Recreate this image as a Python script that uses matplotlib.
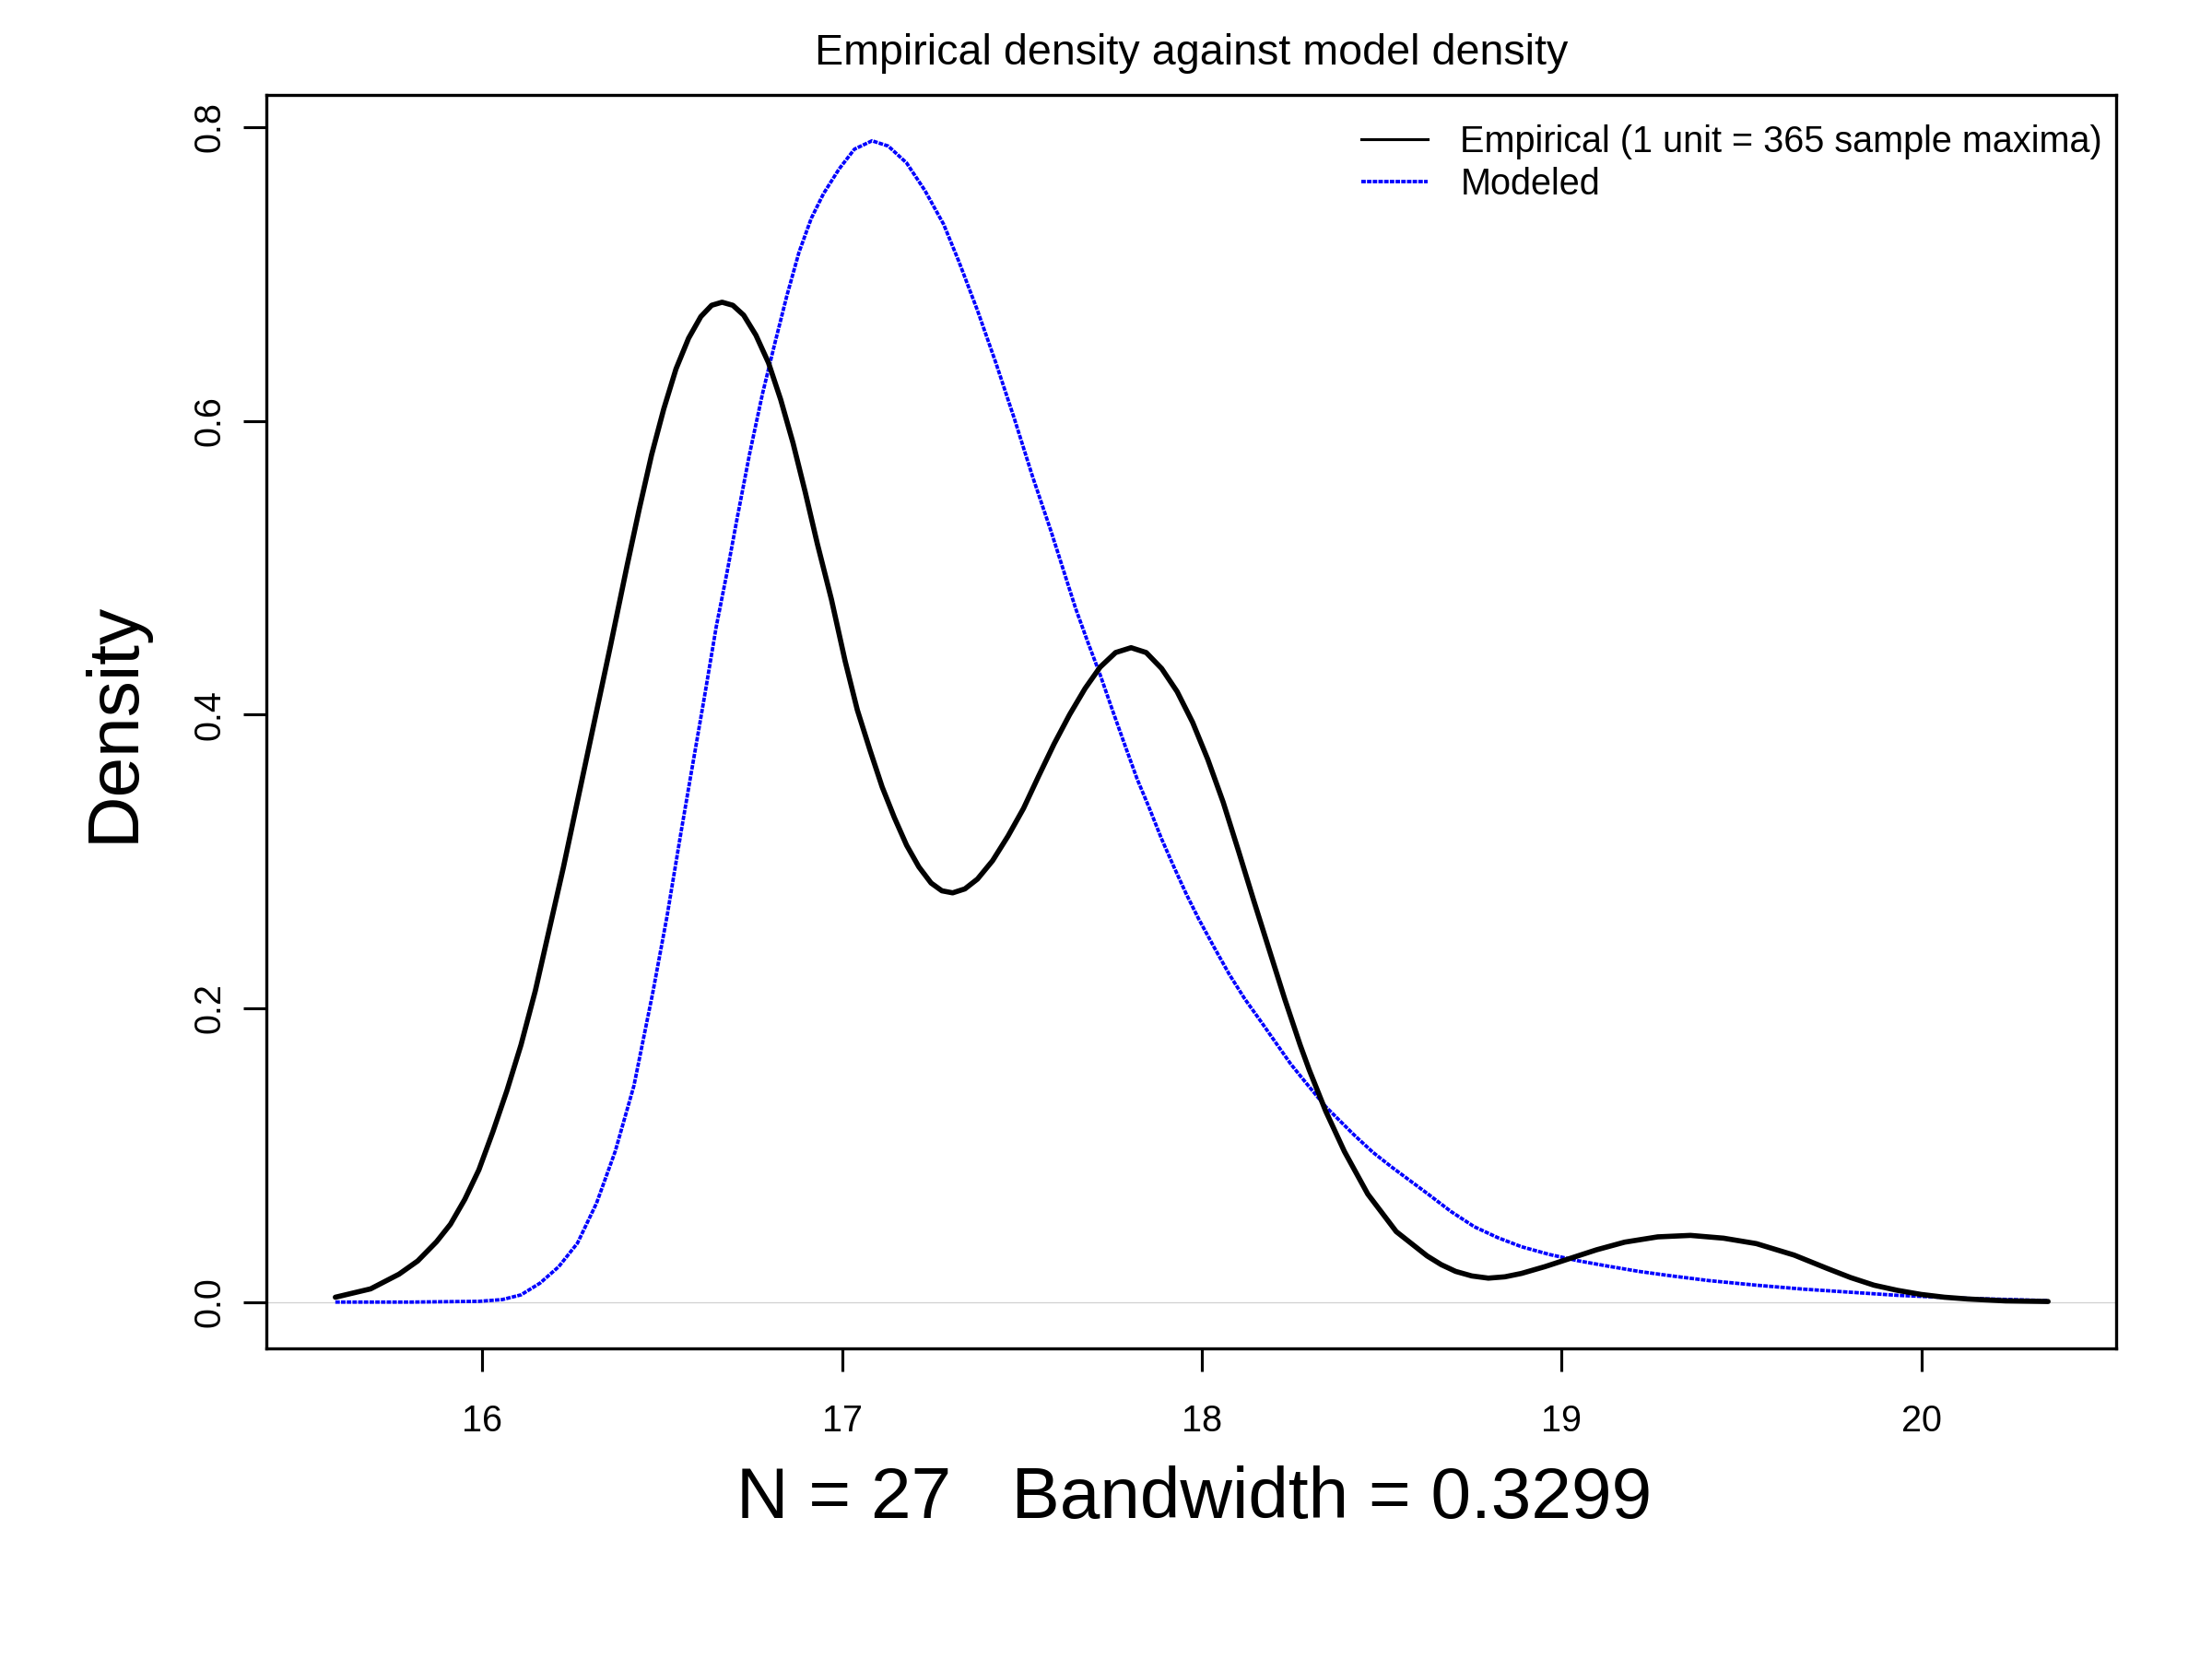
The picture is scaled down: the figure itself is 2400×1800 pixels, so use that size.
import matplotlib
matplotlib.use("Agg")
import matplotlib.pyplot as plt
from matplotlib.lines import Line2D

plt.rcParams['font.family'] = ['Liberation Sans', 'DejaVu Sans']

# ---- data ----
emp_x = [15.591, 15.689, 15.768, 15.820, 15.872, 15.911, 15.951, 15.990, 16.029, 16.068,
         16.107, 16.147, 16.186, 16.225, 16.264, 16.297, 16.356, 16.402, 16.436, 16.470,
         16.504, 16.538, 16.573, 16.607, 16.637, 16.666, 16.696, 16.726, 16.760, 16.795,
         16.829, 16.863, 16.897, 16.931, 16.970, 17.008, 17.042, 17.077, 17.111, 17.145,
         17.179, 17.213, 17.247, 17.277, 17.307, 17.341, 17.376, 17.418, 17.461, 17.504,
         17.546, 17.589, 17.632, 17.675, 17.717, 17.760, 17.803, 17.845, 17.888, 17.931,
         17.974, 18.016, 18.059, 18.102, 18.144, 18.187, 18.230, 18.273, 18.298, 18.344,
         18.396, 18.461, 18.540, 18.626, 18.665, 18.705, 18.750, 18.796, 18.842, 18.888,
         18.953, 19.018, 19.097, 19.175, 19.267, 19.358, 19.450, 19.541, 19.646, 19.737,
         19.803, 19.868, 19.933, 19.999, 20.064, 20.129, 20.234, 20.352]
emp_y = [0.0033, 0.0090, 0.0190, 0.0280, 0.0410, 0.0530, 0.0700, 0.0900, 0.1160, 0.1440,
         0.1750, 0.2120, 0.2540, 0.2960, 0.3410, 0.3790, 0.4470, 0.5014, 0.5401, 0.5767,
         0.6081, 0.6353, 0.6562, 0.6709, 0.6786, 0.6807, 0.6786, 0.6719, 0.6583, 0.6395,
         0.6144, 0.5851, 0.5516, 0.5161, 0.4784, 0.4365, 0.4031, 0.3759, 0.3507, 0.3298,
         0.3110, 0.2963, 0.2853, 0.2800, 0.2786, 0.2813, 0.2880, 0.3005, 0.3173, 0.3361,
         0.3581, 0.3800, 0.3999, 0.4177, 0.4323, 0.4422, 0.4455, 0.4422, 0.4313, 0.4156,
         0.3947, 0.3696, 0.3403, 0.3068, 0.2733, 0.2398, 0.2064, 0.1750, 0.1582, 0.1300,
         0.1025, 0.0735, 0.0480, 0.0314, 0.0255, 0.0209, 0.0178, 0.0163, 0.0172, 0.0195,
         0.0241, 0.0293, 0.0356, 0.0408, 0.0444, 0.0454, 0.0435, 0.0398, 0.0320, 0.0230,
         0.0167, 0.0115, 0.0080, 0.0052, 0.0033, 0.0021, 0.0008, 0.0004]

mod_x = [15.591, 15.800, 15.990, 16.055, 16.107, 16.160, 16.212, 16.264, 16.317, 16.369,
         16.421, 16.474, 16.513, 16.552, 16.578, 16.617, 16.650, 16.680, 16.709, 16.743,
         16.778, 16.812, 16.846, 16.880, 16.914, 16.948, 16.991, 17.034, 17.083, 17.128,
         17.179, 17.230, 17.282, 17.324, 17.376, 17.427, 17.478, 17.529, 17.581, 17.649,
         17.683, 17.717, 17.751, 17.786, 17.820, 17.854, 17.888, 17.922, 17.957, 17.991,
         18.033, 18.076, 18.119, 18.162, 18.204, 18.247, 18.290, 18.344, 18.422, 18.475,
         18.527, 18.626, 18.692, 18.757, 18.822, 18.888, 18.966, 19.044, 19.123, 19.214,
         19.306, 19.410, 19.541, 19.672, 19.803, 19.933, 20.129, 20.352]
mod_y = [0.0000, 0.0000, 0.0005, 0.0017, 0.0049, 0.0129, 0.0241, 0.0401, 0.0673, 0.1026,
         0.1473, 0.2114, 0.2626, 0.3200, 0.3570, 0.4120, 0.4600, 0.4970, 0.5350, 0.5780,
         0.6180, 0.6520, 0.6850, 0.7148, 0.7378, 0.7546, 0.7713, 0.7849, 0.7906, 0.7870,
         0.7755, 0.7567, 0.7337, 0.7086, 0.6751, 0.6395, 0.6018, 0.5621, 0.5244, 0.4721,
         0.4491, 0.4271, 0.4031, 0.3790, 0.3560, 0.3361, 0.3152, 0.2963, 0.2775, 0.2608,
         0.2419, 0.2231, 0.2064, 0.1917, 0.1770, 0.1620, 0.1490, 0.1330, 0.1140, 0.1020,
         0.0920, 0.0740, 0.0617, 0.0513, 0.0439, 0.0377, 0.0324, 0.0282, 0.0247, 0.0209,
         0.0178, 0.0146, 0.0115, 0.0088, 0.0067, 0.0046, 0.0025, 0.0010]

x_ticks = [16, 17, 18, 19, 20]
y_ticks = [0.0, 0.2, 0.4, 0.6, 0.8]
y_tick_labels = ["0.0", "0.2", "0.4", "0.6", "0.8"]

title = "Empirical density against model density"
x_label = "N = 27   Bandwidth = 0.3299"
y_label = "Density"
legend_labels = ["Empirical (1 unit = 365 sample maxima)", "Modeled"]

# ---- figure ----
W, H = 1568.0, 1176.0
fig = plt.figure(figsize=(8, 6), dpi=300)
ax = fig.add_axes([189 / W, 1 - 956 / H, (1500 - 189) / W, (956 - 67) / H])

blue_dash = (0, (1.3, 0.35))
ax.axhline(0, color='#d0d0d0', lw=0.3, zorder=1)
ax.plot(emp_x, emp_y, color='black', lw=1.35, solid_joinstyle='round',
        solid_capstyle='round', zorder=3)
ax.plot(mod_x, mod_y, color='#0000ff', lw=0.9, linestyle=blue_dash, zorder=2)

ax.set_xlim(15.4, 20.541)
ax.set_ylim(-0.0317, 0.8221)

for s in ax.spines.values():
    s.set_linewidth(0.8)

ax.set_xticks(x_ticks)
ax.set_xticklabels([str(t) for t in x_ticks], fontsize=9.5, va='baseline')
ax.set_yticks(y_ticks)
ax.set_yticklabels(y_tick_labels, fontsize=9.5, rotation=90, rotation_mode='anchor',
                   ha='center', va='baseline')
ax.tick_params(axis='both', direction='out', length=6.0, width=0.75, color='black')
ax.tick_params(axis='x', pad=15.5)
ax.tick_params(axis='y', pad=6.2)

fig.text(844.5 / W, 1 - 46 / H, title, ha='center', va='baseline', fontsize=11.2)
fig.text(846.7 / W, 1 - 1075.8 / H, x_label, ha='center', va='baseline', fontsize=18.8)
fig.text(94.8 / W, 1 - 511.5 / H, y_label, ha='center', va='baseline', fontsize=18.8,
         rotation=90, rotation_mode='anchor')

handles = [Line2D([], [], color='black', lw=0.75),
           Line2D([], [], color='#0000ff', lw=0.9, linestyle=blue_dash)]
fig.legend(handles, legend_labels, loc='upper left', bbox_to_anchor=(965 / W, 1 - 88 / H),
           frameon=False, fontsize=9.5, borderpad=0, borderaxespad=0,
           handlelength=1.82, handletextpad=0.89, labelspacing=0.2)

fig.savefig("out.png", dpi=300)
